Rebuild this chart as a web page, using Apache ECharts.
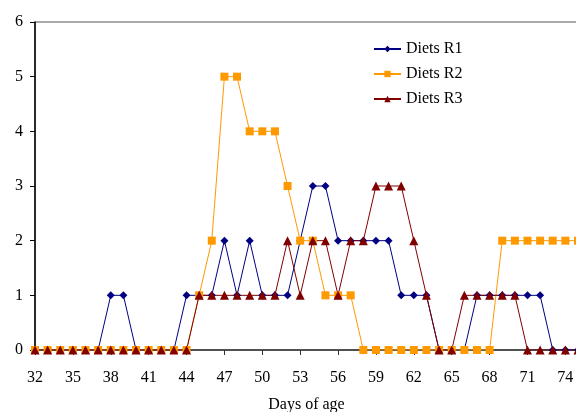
<!DOCTYPE html>
<html>
<head>
<meta charset="utf-8">
<style>html,body{margin:0;padding:0;background:#fff;}#c{width:576px;height:412px;}</style>
<script src="https://cdn.jsdelivr.net/npm/echarts@6/dist/echarts.min.js"></script>
</head>
<body>
<div id="c"></div>
<script>
const days = ['32','33','34','35','36','37','38','39','40','41','42','43','44','45','46','47','48','49','50','51','52','53','54','55','56','57','58','59','60','61','62','63','64','65','66','67','68','69','70','71','72','73','74','75'];
const dietsR1 = [0,0,0,0,0,0,1,1,0,0,0,0,1,1,1,2,1,2,1,1,1,2,3,3,2,2,2,2,2,1,1,1,0,0,0,1,1,1,1,1,1,0,0,0];
const dietsR2 = [0,0,0,0,0,0,0,0,0,0,0,0,0,1,2,5,5,4,4,4,3,2,2,1,1,1,0,0,0,0,0,0,0,0,0,0,0,2,2,2,2,2,2,2];
const dietsR3 = [0,0,0,0,0,0,0,0,0,0,0,0,0,1,1,1,1,1,1,1,2,1,2,2,1,2,2,3,3,3,2,1,0,0,1,1,1,1,1,0,0,0,0,0];
const yTicks = [0,1,2,3,4,5,6];

const font = 'Liberation Serif';
const chart = echarts.init(document.getElementById('c'), null, {renderer:'canvas'});
function mk(name, data, color, symbol, size){
  return {name, type:'line', data, symbol, symbolSize:size, showSymbol:true, showAllSymbol:true,
    lineStyle:{color, width:1}, itemStyle:{color}, animation:false};
}
chart.setOption({
  animation:false,
  backgroundColor:'#fff',
  grid:{left:35, top:22, width:543, height:328, outerBoundsMode:'none', containLabel:false,
    show:true, borderColor:'#555', borderWidth:1, backgroundColor:'transparent'},
  legend:{
    orient:'vertical', left:373, top:41, padding:0, itemWidth:27, itemHeight:8, itemGap:9,
    textStyle:{fontFamily:font, fontSize:16, color:'#000'},
    data:['Diets R1','Diets R2','Diets R3']
  },
  xAxis:{
    type:'category', data:days, boundaryGap:false,
    name:'Days of age', nameLocation:'middle', nameGap:47,
    nameTextStyle:{fontFamily:font, fontSize:16, color:'#000'},
    axisLine:{lineStyle:{color:'#333', width:1.5}},
    axisTick:{show:true, interval:2, length:5, lineStyle:{color:'#333'}},
    axisLabel:{interval:2, margin:20, fontFamily:font, fontSize:16, color:'#000'},
    splitLine:{show:false}
  },
  yAxis:{
    type:'value', min:0, max:6, interval:1,
    axisLine:{show:true, lineStyle:{color:'#000', width:1.5}},
    axisTick:{show:true, length:5, lineStyle:{color:'#000'}},
    axisLabel:{margin:12, fontFamily:font, fontSize:16, color:'#000',
      formatter:v=>yTicks.includes(v)?String(v):''},
    splitLine:{show:false}
  },
  series:[
    mk('Diets R1', dietsR1, '#000080', 'diamond', 8),
    mk('Diets R2', dietsR2, '#FF9900', 'rect', 8),
    mk('Diets R3', dietsR3, '#800000', 'triangle', 9)
  ]
});
</script>
</body>
</html>
